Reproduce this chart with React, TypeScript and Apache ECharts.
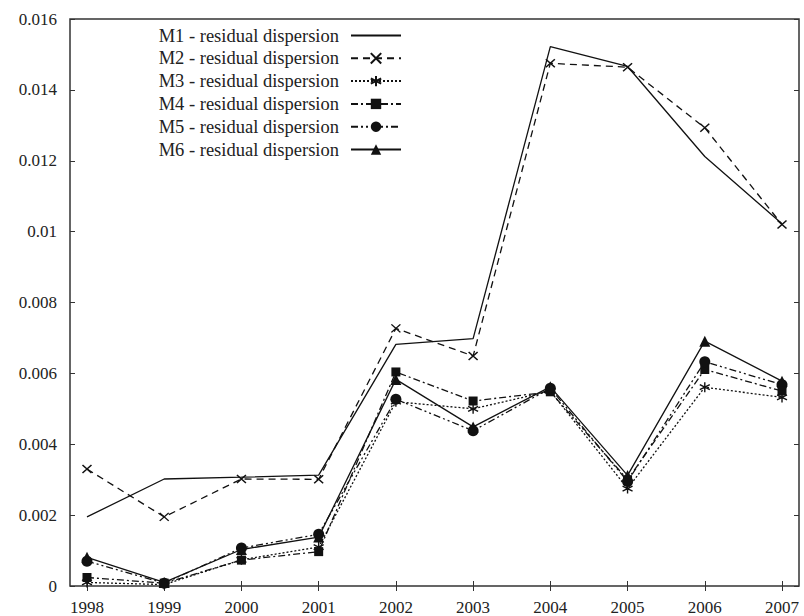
import React, { useEffect, useRef } from "react";
import * as echarts from "echarts";

const years = [1998, 1999, 2000, 2001, 2002, 2003, 2004, 2005, 2006, 2007];
const m1 = [0.00195, 0.00302, 0.00307, 0.00313, 0.00682, 0.00698, 0.01522, 0.01466, 0.01212, 0.01022];
const m2 = [0.0033, 0.00195, 0.00302, 0.00301, 0.00727, 0.00649, 0.01475, 0.01464, 0.01293, 0.0102];
const m3 = [0.0001, 0.00004, 0.00074, 0.0011, 0.0052, 0.005, 0.0055, 0.00275, 0.00561, 0.00532];
const m4 = [0.00024, 0.00008, 0.00073, 0.00097, 0.00604, 0.00522, 0.00548, 0.003, 0.00611, 0.0055];
const m5 = [0.0007, 0.00008, 0.00107, 0.00146, 0.00527, 0.00438, 0.00558, 0.00295, 0.00633, 0.00568];
const m6 = [0.00081, 0.0001, 0.00103, 0.00138, 0.00583, 0.00449, 0.00562, 0.00312, 0.00691, 0.00578];
const seriesNames = [
  "M1 - residual dispersion",
  "M2 - residual dispersion",
  "M3 - residual dispersion",
  "M4 - residual dispersion",
  "M5 - residual dispersion",
  "M6 - residual dispersion",
];

const FONT = "'Liberation Serif', serif";
const INK = "#111";

const CROSS = "path://M0,0 L10,10 M10,0 L0,10";
const STAR = "path://M5,0 L5,10 M0.7,2.5 L9.3,7.5 M0.7,7.5 L9.3,2.5";

export default function App() {
  const ref = useRef<HTMLDivElement>(null);
  useEffect(() => {
    if (!ref.current) return;
    const chart = echarts.init(ref.current, undefined, { renderer: "svg" });
    const pairs = (vals: number[]) => years.map((y, i) => [y, vals[i]]);
    const base = (name: string, vals: number[]) => ({
      name,
      type: "line",
      data: pairs(vals),
      xAxisIndex: 0,
      yAxisIndex: 0,
      showSymbol: true,
      clip: false,
    });
    const axisTickX = {
      show: true,
      inside: true,
      length: 5,
      lineStyle: { color: "#333", width: 1 },
      customValues: years,
    };
    const option: any = {
      animation: false,
      backgroundColor: "#fff",
      textStyle: { fontFamily: FONT },
      grid: {
        left: 70,
        right: 5,
        top: 19,
        bottom: 29,
        show: true,
        borderColor: "#333",
        borderWidth: 1.5,
        backgroundColor: "transparent",
      },
      legend: {
        orient: "vertical",
        align: "right",
        right: 402,
        top: 26,
        padding: 0,
        itemWidth: 50,
        itemHeight: 13,
        itemGap: 3.8,
        textStyle: {
          fontFamily: FONT,
          fontSize: 18.5,
          color: "#222",
          padding: [0, 7, 0, 0],
        },
        data: seriesNames,
      },
      xAxis: [
        {
          type: "value",
          min: 1997.78,
          max: 2007.22,
          position: "bottom",
          axisLine: { show: false },
          axisTick: axisTickX,
          splitLine: { show: false },
          axisLabel: {
            customValues: years,
            margin: 13,
            fontFamily: FONT,
            fontSize: 17,
            color: "#222",
            formatter: (v: number) => String(Math.round(v)),
          },
        },
        {
          type: "value",
          min: 1997.78,
          max: 2007.22,
          position: "top",
          axisLine: { show: false },
          axisTick: axisTickX,
          splitLine: { show: false },
          axisLabel: { show: false, customValues: years },
        },
      ],
      yAxis: [
        {
          type: "value",
          min: 0,
          max: 0.016,
          interval: 0.002,
          position: "left",
          axisLine: { show: false },
          axisTick: { show: true, inside: true, length: 5, lineStyle: { color: "#333" } },
          splitLine: { show: false },
          axisLabel: {
            margin: 13,
            fontFamily: FONT,
            fontSize: 17,
            color: "#222",
            formatter: (v: number) => String(parseFloat(v.toFixed(3))),
          },
        },
        {
          type: "value",
          min: 0,
          max: 0.016,
          interval: 0.002,
          position: "right",
          axisLine: { show: false },
          axisTick: { show: true, inside: true, length: 5, lineStyle: { color: "#333" } },
          splitLine: { show: false },
          axisLabel: { show: false },
        },
      ],
      series: [
        {
          ...base(seriesNames[0], m1),
          symbol: "circle",
          showSymbol: false,
          symbolSize: 0,
          lineStyle: { color: INK, width: 1.3, type: "solid" },
          itemStyle: { color: "rgba(0,0,0,0)" },
        },
        {
          ...base(seriesNames[1], m2),
          symbol: CROSS,
          symbolSize: [9, 8],
          lineStyle: { color: INK, width: 1.3, type: [7, 5] },
          itemStyle: { color: "none", borderColor: INK, borderWidth: 1.4 },
        },
        {
          ...base(seriesNames[2], m3),
          symbol: STAR,
          symbolSize: 10,
          lineStyle: { color: INK, width: 1.3, type: [2, 2] },
          itemStyle: { color: "none", borderColor: INK, borderWidth: 1.4 },
        },
        {
          ...base(seriesNames[3], m4),
          symbol: "rect",
          symbolSize: 9,
          lineStyle: { color: INK, width: 1.3, type: [7, 3, 2, 3] },
          itemStyle: { color: INK },
        },
        {
          ...base(seriesNames[4], m5),
          symbol: "circle",
          symbolSize: 11,
          lineStyle: { color: INK, width: 1.3, type: [7, 3, 2, 3, 2, 3] },
          itemStyle: { color: INK },
        },
        {
          ...base(seriesNames[5], m6),
          symbol: "triangle",
          symbolSize: 11,
          lineStyle: { color: INK, width: 1.3, type: "solid" },
          itemStyle: { color: INK },
        },
      ],
    };
    chart.setOption(option);
    return () => chart.dispose();
  }, []);
  return (
    <div
      ref={ref}
      style={{ position: "absolute", left: 0, top: 0, width: 804, height: 616, background: "#fff" }}
    />
  );
}
